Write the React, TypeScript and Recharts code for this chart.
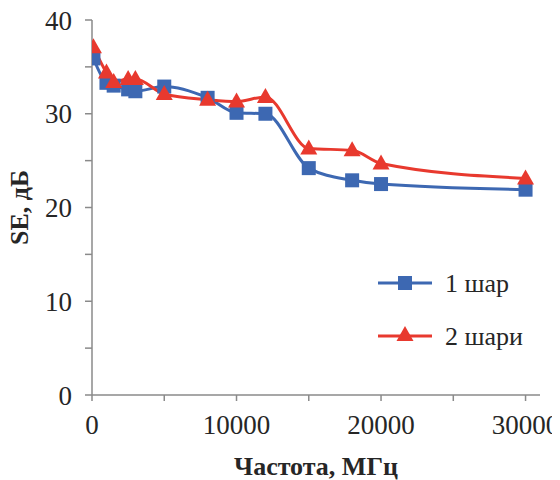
import React from 'react';
import { LineChart, Line, XAxis, YAxis, Legend, Label } from 'recharts';

const frequencies = [100, 1000, 1500, 2500, 3000, 5000, 8000, 10000, 12000, 15000, 18000, 20000, 30000];
const oneLayer = [35.9, 33.3, 33.0, 32.6, 32.4, 32.9, 31.7, 30.1, 30.0, 24.2, 22.9, 22.5, 21.9];
const twoLayers = [37.1, 34.4, 33.4, 33.7, 33.7, 32.1, 31.5, 31.3, 31.8, 26.3, 26.1, 24.7, 23.1];
const xTicks = [0, 5000, 10000, 15000, 20000, 25000, 30000];
const yTicks = [0, 5, 10, 15, 20, 25, 30, 35, 40];
const seriesNames = ['1 шар', '2 шари'];

const BLUE = '#3D68B2';
const RED = '#E8392E';
const AXIS = '#8A8A8A';
const TEXT = '#262626';
const FONT = "'Times New Roman', Tinos, 'Liberation Serif', 'Nimbus Roman', 'Noto Serif', serif";
const textStyle = { fontFamily: FONT, fontSize: 27 };
const boldStyle = { fontFamily: FONT, fontSize: 26, fontWeight: 700 as const };

const data = frequencies.map((f, i) => ({ f, s1: oneLayer[i], s2: twoLayers[i] }));

const Square = ({ cx, cy, color }: any) =>
  cx == null || cy == null ? null : <rect x={cx - 7} y={cy - 7} width={14} height={14} fill={color} />;

const Triangle = ({ cx, cy, color }: any) =>
  cx == null || cy == null ? null : (
    <polygon points={`${cx},${cy - 9} ${cx + 8.5},${cy + 6} ${cx - 8.5},${cy + 6}`} fill={color} />
  );

const XTick = ({ x, y, payload }: any) =>
  payload.value % 10000 === 0 ? (
    <text x={x} y={y} dy="0.71em" textAnchor="middle" fill={TEXT} style={textStyle}>
      {payload.value}
    </text>
  ) : (
    <g />
  );

const YTick = ({ x, y, payload }: any) =>
  payload.value % 10 === 0 ? (
    <text x={x} y={y} dy="0.36em" textAnchor="end" fill={TEXT} style={textStyle}>
      {payload.value}
    </text>
  ) : (
    <g />
  );

const LegendContent = () => (
  <svg width={190} height={90}>
    {seriesNames.map((name, i) => {
      const y = 18 + i * 53;
      const color = i === 0 ? BLUE : RED;
      return (
        <g key={name}>
          <line x1={8} x2={62} y1={y} y2={y} stroke={color} strokeWidth={3} />
          {i === 0 ? <Square cx={35} cy={y} color={color} /> : <Triangle cx={35} cy={y - 1} color={color} />}
          <text x={75} y={y} dy="0.34em" fill={TEXT} style={{ fontFamily: FONT, fontSize: 26 }}>
            {name}
          </text>
        </g>
      );
    })}
  </svg>
);

export default function App() {
  return (
    <LineChart width={552} height={472} data={data} margin={{ top: 12, right: 20, left: 0, bottom: 0 }}>
      <XAxis
        dataKey="f"
        type="number"
        domain={[0, 31000]}
        ticks={xTicks}
        allowDataOverflow
        stroke={AXIS}
        strokeWidth={1.5}
        tickSize={6}
        tickMargin={14}
        height={85}
        tick={<XTick />}
        interval={0}
      >
        <Label
          content={({ viewBox }: any) => (
            <text
              x={viewBox.x + viewBox.width / 2}
              y={viewBox.y + viewBox.height - 5}
              textAnchor="middle"
              fill={TEXT}
              style={boldStyle}
            >
              Частота, МГц
            </text>
          )}
        />
      </XAxis>
      <YAxis
        type="number"
        domain={[0, 40]}
        ticks={yTicks}
        stroke={AXIS}
        strokeWidth={1.5}
        tickSize={7}
        tickMargin={13}
        width={84}
        tick={<YTick />}
        interval={0}
      >
        <Label
          content={({ viewBox }: any) => {
            const x = viewBox.x + 20;
            const y = viewBox.y + viewBox.height / 2;
            return (
              <text
                x={x}
                y={y}
                transform={`rotate(-90 ${x} ${y})`}
                textAnchor="middle"
                fill={TEXT}
                style={boldStyle}
              >
                SE, дБ
              </text>
            );
          }}
        />
      </YAxis>
      <Legend
        layout="vertical"
        align="center"
        verticalAlign="middle"
        content={<LegendContent />}
        wrapperStyle={{ position: 'absolute', left: 362, top: 257, width: 190 }}
      />
      <Line
        type="monotone"
        dataKey="s1"
        name={seriesNames[0]}
        stroke={BLUE}
        strokeWidth={3}
        dot={(p: any) => <Square key={`a${p.index}`} cx={p.cx} cy={p.cy} color={BLUE} />}
        activeDot={false}
        isAnimationActive={false}
      />
      <Line
        type="monotone"
        dataKey="s2"
        name={seriesNames[1]}
        stroke={RED}
        strokeWidth={3}
        dot={(p: any) => <Triangle key={`b${p.index}`} cx={p.cx} cy={p.cy} color={RED} />}
        activeDot={false}
        isAnimationActive={false}
      />
    </LineChart>
  );
}
